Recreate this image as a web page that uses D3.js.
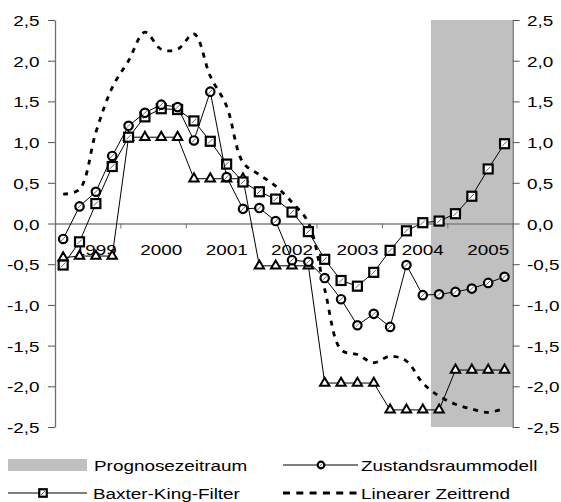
<!DOCTYPE html>
<html>
<head>
<meta charset="utf-8">
<script src="https://cdn.jsdelivr.net/npm/d3@7"></script>
<style>
  body { margin: 0; background: #fff; }
  text { font-family: "Liberation Sans", Arial, sans-serif; font-size: 15px; fill: #000; }
</style>
</head>
<body>
<div class="chart"></div>
<script>
// DATA ------------------------------
const years = [1999, 2000, 2001, 2002, 2003, 2004, 2005];
const quarters = years.flatMap(yr => ["Q1", "Q2", "Q3", "Q4"].map(q => yr + q));
const forecastStart = "2004Q4";
const yTicks = [-2.5, -2.0, -1.5, -1.0, -0.5, 0.0, 0.5, 1.0, 1.5, 2.0, 2.5];

const zustand = [-0.19, 0.21, 0.39, 0.83, 1.20, 1.36, 1.46, 1.43, 1.02, 1.62, 0.57, 0.18, 0.19, 0.03,
                 -0.45, -0.47, -0.67, -0.93, -1.25, -1.11, -1.27, -0.51, -0.88, -0.87, -0.84, -0.80, -0.73, -0.655];
const baxter = [-0.51, -0.225, 0.245, 0.70, 1.06, 1.31, 1.41, 1.40, 1.26, 1.01, 0.73, 0.51, 0.39, 0.30,
                0.14, -0.10, -0.44, -0.70, -0.77, -0.60, -0.33, -0.09, 0.01, 0.03, 0.12, 0.335, 0.67, 0.98];
const dreieck = [-0.42, -0.40, -0.40, -0.40, 1.06, 1.06, 1.06, 1.06, 0.55, 0.55, 0.55, 0.55,
                 -0.52, -0.52, -0.52, -0.52, -1.96, -1.96, -1.96, -1.96, -2.29, -2.29, -2.29, -2.29,
                 -1.80, -1.80, -1.80, -1.80];
const trend = [0.36, 0.42, 1.12, 1.67, 2.00, 2.35, 2.14, 2.14, 2.33, 1.81, 1.44, 0.75, 0.60, 0.46,
               0.26, 0.01, -0.81, -1.55, -1.61, -1.71, -1.63, -1.69, -1.96, -2.12, -2.22, -2.28, -2.32, -2.27];

// CHART INIT ------------------------------
const W = 561, H = 502;
const margin = ({top: 20, right: 512.7, bottom: 427, left: 55});
const SX = 1.26; // text is wider than plain Arial in the original

const svg = d3.select(".chart").append("svg")
    .attr("width", W).attr("height", H);

const x = d3.scaleBand().domain(quarters).range([margin.left, margin.right]);
const xc = q => x(q) + x.bandwidth() / 2;
const xYear = d3.scaleLinear().domain([1999, 2006]).range([margin.left, margin.right]);
const y = d3.scaleLinear().domain([-2.5, 2.5]).range([margin.bottom, margin.top]);
const fmt = d => d3.format(".1f")(d).replace(".", ",").replace("−", "-");

function stretch(sel, dx, dy) {
  sel.attr("x", 0).attr("y", 0).attr("dy", null)
     .attr("transform", `translate(${dx},${dy}) scale(${SX},1)`);
}

// forecast shading
svg.append("rect")
  .attr("x", x(forecastStart)).attr("y", margin.top)
  .attr("width", margin.right - x(forecastStart)).attr("height", margin.bottom - margin.top)
  .attr("fill", "#c0c0c0");

// axes
const yLeft = svg.append("g").attr("transform", `translate(${margin.left},0)`)
  .call(d3.axisLeft(y).tickValues(yTicks).tickFormat(fmt).tickSize(7).tickSizeOuter(0));
const yRight = svg.append("g").attr("transform", `translate(${margin.right},0)`)
  .call(d3.axisRight(y).tickValues(yTicks).tickFormat(fmt).tickSize(7).tickSizeOuter(0));
[yLeft, yRight].forEach(g => {
  g.select(".domain").attr("stroke", "#707070").attr("stroke-width", 1.3);
  g.selectAll(".tick line").attr("stroke", "#555");
  g.attr("font-family", null).attr("font-size", null);
});
yLeft.selectAll(".tick text").attr("text-anchor", "end").call(stretch, -15.5, 5.5);
yRight.selectAll(".tick text").attr("text-anchor", "start").call(stretch, 14.3, 5.5);

const xAxis = svg.append("g").attr("transform", `translate(0,${y(0)})`)
  .call(d3.axisBottom(xYear).tickValues(years.concat([2006])).tickFormat("").tickSize(5).tickSizeOuter(0));
xAxis.select(".domain").attr("stroke", "#808080").attr("stroke-width", 1.5);
xAxis.selectAll(".tick line").attr("stroke", "#707070");

svg.append("g").selectAll("text").data(years).join("text")
  .attr("text-anchor", "middle")
  .each(function(d) { d3.select(this).call(stretch, xYear(d + 0.625), y(0) + 31); })
  .text(d => d);

// SERIES ------------------------------
const line = d3.line().x((d, i) => xc(quarters[i])).y(d => y(d));

function thinLine(vals) {
  svg.append("path").datum(vals).attr("d", line)
    .attr("fill", "none").attr("stroke", "#000").attr("stroke-width", 1);
}

// triangles
thinLine(dreieck);
svg.append("g").selectAll("path").data(dreieck).join("path")
  .attr("d", d3.symbol(d3.symbolTriangle, 38))
  .attr("transform", (d, i) => `translate(${xc(quarters[i])},${y(d)})`)
  .attr("fill", "#fff").attr("stroke", "#000").attr("stroke-width", 2);

// linear trend (dashed, smoothed)
svg.append("path").datum(trend)
  .attr("d", line.curve(d3.curveCatmullRom.alpha(0.5)))
  .attr("fill", "none").attr("stroke", "#000").attr("stroke-width", 2.8)
  .attr("stroke-dasharray", "5,6");
line.curve(d3.curveLinear);

function squares(g, vals, s) {
  const m = g.selectAll("g").data(vals).join("g")
    .attr("transform", (d, i) => `translate(${xc(quarters[i])},${y(d)})`);
  m.append("rect").attr("x", -s / 2).attr("y", -s / 2).attr("width", s).attr("height", s)
    .attr("fill", "#fff").attr("stroke", "#000").attr("stroke-width", 2.2);
  m.append("line").attr("x1", -s / 4).attr("y1", s / 4).attr("x2", s / 4).attr("y2", -s / 4)
    .attr("stroke", "#666").attr("stroke-width", 1);
  return g;
}
function circles(g, vals, r) {
  const m = g.selectAll("g").data(vals).join("g")
    .attr("transform", (d, i) => `translate(${xc(quarters[i])},${y(d)})`);
  m.append("circle").attr("r", r)
    .attr("fill", "#fff").attr("stroke", "#000").attr("stroke-width", 2.2);
  m.append("line").attr("x1", -r / 2).attr("y1", r / 2).attr("x2", r / 2).attr("y2", -r / 2)
    .attr("stroke", "#666").attr("stroke-width", 1);
  return g;
}

thinLine(baxter);
squares(svg.append("g"), baxter, 9);
thinLine(zustand);
circles(svg.append("g"), zustand, 4.2);

// LEGEND ------------------------------
const lg = svg.append("g");
const row1 = 465, row2 = 493;
lg.append("rect").attr("x", 8).attr("y", row1 - 6).attr("width", 79).attr("height", 12).attr("fill", "#c0c0c0");
lg.append("text").call(stretch, 94, row1 + 5.5).text("Prognosezeitraum");

lg.append("line").attr("x1", 283).attr("x2", 358).attr("y1", row1).attr("y2", row1).attr("stroke", "#000");
circles(lg.append("g"), [0], 3.3).attr("transform", `translate(${321 - xc(quarters[0])},${row1 - y(0)})`);
lg.append("text").call(stretch, 361, row1 + 5.5).text("Zustandsraummodell");

lg.append("line").attr("x1", 8).attr("x2", 87).attr("y1", row2).attr("y2", row2).attr("stroke", "#000");
squares(lg.append("g"), [0], 7.5).attr("transform", `translate(${43 - xc(quarters[0])},${row2 - y(0)})`);
lg.append("text").call(stretch, 93, row2 + 5.5).text("Baxter-King-Filter");

lg.append("line").attr("x1", 283).attr("x2", 358).attr("y1", row2).attr("y2", row2)
  .attr("stroke", "#000").attr("stroke-width", 3).attr("stroke-dasharray", "7,6.3");
lg.append("text").call(stretch, 361, row2 + 5.5).text("Linearer Zeittrend");
</script>
</body>
</html>
